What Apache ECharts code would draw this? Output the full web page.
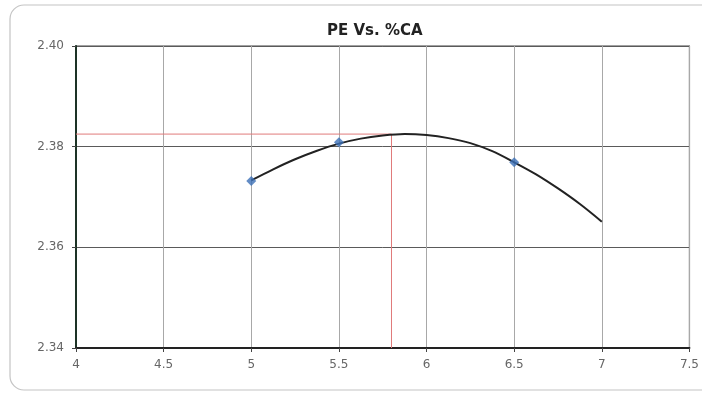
<!DOCTYPE html>
<html>
<head>
<meta charset="utf-8">
<script src="https://cdn.jsdelivr.net/npm/echarts@6/dist/echarts.min.js"></script>
<style>
html,body{margin:0;padding:0;background:#fff;}
#chart{width:702px;height:394px;}
</style>
</head>
<body>
<div id="chart"></div>
<script>
// Measured PE at each %CA
const caPercent = [5, 5.5, 6.5];
const peValues = [2.3732, 2.3809, 2.3769];

// Fitted trend curve, sampled along %CA
const trendCa = [5, 5.125, 5.25, 5.375, 5.5, 5.625, 5.75, 5.875, 6, 6.125, 6.25, 6.375, 6.5, 6.625, 6.75, 6.875, 7];
const trendPe = [2.3733, 2.3755, 2.3775, 2.3792, 2.3806, 2.3816, 2.3822, 2.3825, 2.3823, 2.3817, 2.3807, 2.3791, 2.3769, 2.3745, 2.3717, 2.3686, 2.3651];

// Optimum
const optimumCa = 5.8;
const optimumPe = 2.3825;

// Axis ranges
const xMin = 4, xMax = 7.5, xStep = 0.5;
const yMin = 2.34, yMax = 2.40, yStep = 0.02;

const chart = echarts.init(document.getElementById('chart'));
const labelStyle = { color: '#666', fontFamily: 'DejaVu Sans', fontSize: 12 };

chart.setOption({
  backgroundColor: '#fff',
  animation: false,
  title: {
    text: 'PE Vs. %CA',
    left: 322, top: 19,
    textStyle: { fontFamily: 'DejaVu Sans', fontWeight: 'bold', fontSize: 15, color: '#222' }
  },
  graphic: [{
    type: 'rect', silent: true, z: -1,
    shape: { x: 10, y: 5, width: 740, height: 385, r: 14 },
    style: { fill: 'none', stroke: '#c4c4c4', lineWidth: 1.2 }
  }],
  grid: { left: 76, right: 9, top: 46, bottom: 46, show: true, borderColor: '#444', borderWidth: 1.2 },
  xAxis: {
    type: 'value', min: xMin, max: xMax, interval: xStep,
    axisLine: { show: true, onZero: false, lineStyle: { color: '#222', width: 2 } },
    axisTick: { show: true, length: 4, lineStyle: { color: '#444' } },
    axisLabel: Object.assign({ margin: 11 }, labelStyle),
    splitLine: { show: true, lineStyle: { color: '#a8a8a8', width: 1 } }
  },
  yAxis: {
    type: 'value', min: yMin, max: yMax, interval: yStep,
    axisLine: { show: true, onZero: false, lineStyle: { color: '#1d3326', width: 2 } },
    axisTick: { show: true, length: 4, lineStyle: { color: '#444' } },
    axisLabel: Object.assign({ margin: 12, formatter: v => v.toFixed(2) }, labelStyle),
    splitLine: { show: true, lineStyle: { color: '#5a5a5a', width: 1 } }
  },
  series: [
    {
      name: 'optimum-h', type: 'line', silent: true, symbol: 'none', z: 2,
      data: [[xMin, optimumPe], [optimumCa, optimumPe]],
      lineStyle: { color: '#e07a7a', width: 1 }
    },
    {
      name: 'optimum-v', type: 'line', silent: true, symbol: 'none', z: 2,
      data: [[optimumCa, optimumPe], [optimumCa, yMin]],
      lineStyle: { color: '#e07a7a', width: 1 }
    },
    {
      name: 'trend', type: 'line', smooth: 0.3, symbol: 'none', z: 3,
      data: trendCa.map((c, i) => [c, trendPe[i]]),
      lineStyle: { color: '#222', width: 2 }
    },
    {
      name: 'PE', type: 'scatter', symbol: 'diamond', symbolSize: 10, z: 4,
      data: caPercent.map((c, i) => [c, peValues[i]]),
      itemStyle: { color: '#3b6fb6' }
    }
  ]
});
</script>
</body>
</html>
